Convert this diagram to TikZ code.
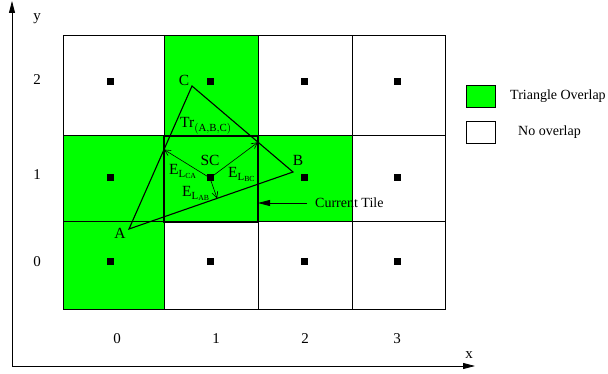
\documentclass[tikz,border=0pt]{standalone}
\usepackage{fontspec}
\setmainfont{Liberation Serif}
\usetikzlibrary{arrows.meta,calc}
\definecolor{ovl}{RGB}{0,255,0}
\begin{document}
\begin{tikzpicture}[x=1pt,y=-1pt,
  cellmark/.style={fill=black,minimum size=7pt,inner sep=0pt,outer sep=0pt},
  lbl/.style={inner sep=0pt,font=\fontsize{15}{18}\selectfont},
  tlbl/.style={inner sep=0pt,font=\fontsize{15.5}{18}\selectfont},
  leg/.style={inner sep=0pt,font=\fontsize{14}{17}\selectfont},
  gridline/.style={draw=black,line width=1pt},
  edgearrow/.style={line width=0.6pt,-{Straight Barb[length=6pt,width=6pt]}},
  bigarrow/.style={line width=0.8pt,-{Triangle[length=12pt,width=6pt]}}]
\useasboundingbox (0,0) rectangle (608,374);
% green cells
\fill[ovl] (63,136) rectangle (164,309);
\fill[ovl] (164,36) rectangle (258,222);
\fill[ovl] (258,136) rectangle (352,222);
% grid
\draw[gridline] (63,36) rectangle (445,309);
\draw[gridline] (164,36) -- (164,309) (258,36) -- (258,309) (352,36) -- (352,309);
\draw[gridline] (63,136) -- (445,136) (63,222) -- (445,222);
% current tile
\coordinate (tl) at (164,136);
\coordinate (tr) at (258,136);
\coordinate (bl) at (164,222);
\coordinate (br) at (258,222);
\draw[line width=2.6pt] (tl) rectangle (br);
% markers
\foreach \i/\x in {0/110,1/210,2/304,3/397}{
  \foreach \j/\y in {2/82,1/178,0/262}{
    \node[cellmark] (m\i\j) at (\x,\y) {};
  }
}
% axes
\coordinate (o) at (12,366);
\coordinate (yend) at (12,1);
\coordinate (xend) at (475,366);
\draw[line width=0.8pt,-{Triangle[length=12pt,width=6pt]}] (o) -- (yend);
\draw[line width=0.8pt,-{Triangle[length=12pt,width=6pt]}] (o) -- (xend);
\node[lbl] (ylab) at (37,19) {y};
\node[lbl] (xlab) at (469,355) {x};
\node[lbl] (r2) at (37,80) {2};
\node[lbl] (r1) at (37,175) {1};
\node[lbl] (r0) at (37,262) {0};
\node[lbl] (c0) at (117,339) {0};
\node[lbl] (c1) at (216,339) {1};
\node[lbl] (c2) at (305,339) {2};
\node[lbl] (c3) at (397,339) {3};
% triangle
\coordinate (A) at (129,229);
\coordinate (B) at (293,172);
\coordinate (C) at (192,86);
\draw[line width=1.1pt,line join=miter] (A) -- (B) -- (C) -- cycle;
\node[tlbl] (Alab) at (120,233) {A};
\node[tlbl] (Blab) at (298,160) {B};
\node[tlbl] (Clab) at (184,80) {C};
\node[tlbl,anchor=base west] (trlab) at (180,128) {Tr$_{\mathrm{(A,B,C)}}$};
\node[tlbl] (sclab) at (210,160) {SC};
% edge arrows
\coordinate (pca) at (intersection of A--C and tl--bl);
\coordinate (pbc) at (intersection of B--C and tr--br);
\coordinate (pab) at ($(A)!(m11.center)!(B)$);
\draw[edgearrow] (m11.center) -- (pca);
\draw[edgearrow] (m11.center) -- (pbc);
\draw[edgearrow] (m11.center) -- (pab);
\node[tlbl,anchor=base west] (eca) at (169,175) {E$_{\mathrm{L}_{\mathrm{CA}}}$};
\node[tlbl,anchor=base west] (ebc) at (228,178) {E$_{\mathrm{L}_{\mathrm{BC}}}$};
\node[tlbl,anchor=base west] (eab) at (182,197) {E$_{\mathrm{L}_{\mathrm{AB}}}$};
% current tile label
\node[leg,anchor=base west] (ct) at (315,208) {Current Tile};
\coordinate (ctend) at (258,203);
\draw[bigarrow] (ct.west |- ctend) ++(-8,0) coordinate (ctstart) -- (ctend);
% legend
\draw[line width=0.8pt,fill=ovl] (466,85) rectangle (495,107);
\draw[line width=0.8pt,fill=white] (466,121) rectangle (495,143);
\node[leg,anchor=base west] (lg1) at (510,100) {Triangle Overlap};
\node[leg,anchor=base west] (lg2) at (518,136) {No overlap};
\end{tikzpicture}
\end{document}
